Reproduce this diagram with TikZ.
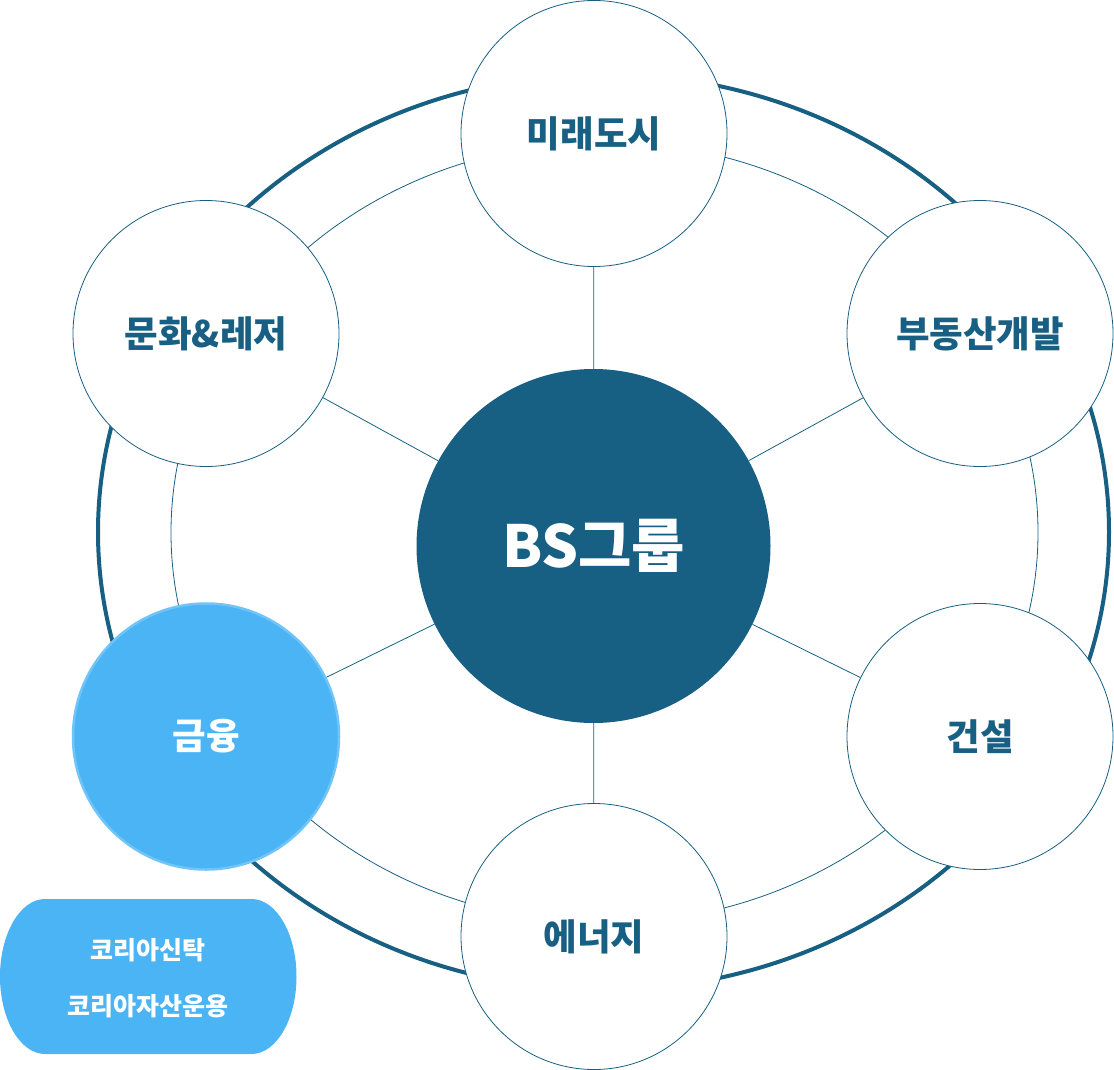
\documentclass[tikz,border=0pt]{standalone}
\usepackage{fontspec}
\setmainfont{Noto Sans CJK KR}
\usetikzlibrary{positioning}
\definecolor{bsblue}{HTML}{186083}
\definecolor{bslight}{HTML}{4BB4F5}
\definecolor{bsrim}{HTML}{70C4F8}
\tikzset{
    biz/.style={circle,draw=bsblue,line width=0.8pt,fill=white,minimum size=266pt,inner sep=0pt,
        text=bsblue,font=\bfseries\fontsize{36.5}{42}\selectfont},
    spoke/.style={draw=bsblue,line width=0.8pt}
}
\begin{document}
\begin{tikzpicture}[x=1pt,y=-1pt]
                \useasboundingbox (0,0) rectangle (1114,1070);
                %% rings
                \draw[bsblue,line width=4pt] (603.5,532) ellipse [x radius=505.5pt,y radius=458pt];
                \draw[bsblue,line width=0.8pt] (604.5,532.5) ellipse [x radius=433.5pt,y radius=390.5pt];
                %% group
                \node[circle,fill=bsblue,minimum size=354pt,inner sep=0pt,text=white,
                    font=\bfseries\fontsize{58}{64}\selectfont] (bs) at (593.5,546) {BS그룹};
                %% companies
                \node[biz] (city) at (594,133.5) {미래도시};
                \node[biz] (dev) at (980,333.5) {부동산개발};
                \node[biz] (build) at (980,736.5) {건설};
                \node[biz] (energy) at (594,936.5) {에너지};
                \node[biz,fill=bslight,draw=bsrim,line width=2.5pt,text=white] (fin) at (206,736.5) {금융};
                \node[biz] (leisure) at (206,333.5) {문화\&레저};
                \foreach \n in {city,dev,build,energy,fin,leisure} {
                    \draw[spoke] (bs) -- (\n);
                }
                %% finance list
                \fill[bslight] (45,899) -- (251.5,899)
                    arc[start angle=90,end angle=-90,x radius=45pt,y radius=77.5pt] -- (45,1054)
                    arc[start angle=270,end angle=90,x radius=45pt,y radius=77.5pt] -- cycle;
                \node[text=white,align=center,font=\bfseries\fontsize{25}{56.5}\selectfont] (trust) at (148,978)
                    {코리아신탁\\코리아자산운용};
            \end{tikzpicture}
\end{document}
